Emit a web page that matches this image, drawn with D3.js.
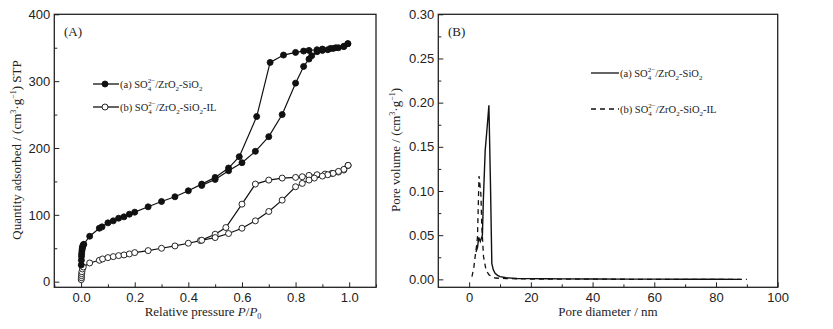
<!DOCTYPE html>
<html lang="en">
<head>
<meta charset="UTF-8">
<title>BET isotherms and pore size distribution</title>
<script src="https://d3js.org/d3.v7.min.js"></script>
<style>
    body{ margin:0; padding:0; background:#fff; }
    svg{ display:block; font-family:"Liberation Serif","Times New Roman",serif; }
    .tick text{ font-size:13px; fill:#222; }
    .tick line{ stroke:#222; }
</style>
</head>
<body>
<svg id="misvg"></svg>
<script>
// (A) isotherms, relative pressure P/P0 vs quantity adsorbed
let aAdsP = [0.0005,0.001,0.0015,0.002,0.003,0.004,0.005,0.006,0.008,0.01,0.032,0.068,0.078,0.10,0.12,0.14,0.16,0.18,0.20,0.25,0.30,0.35,0.40,0.45,0.50,0.55,0.59,0.655,0.705,0.755,0.80,0.83,0.85,0.88,0.90,0.93,0.95,0.98,0.995]
let aAdsV = [25,32,38,42,46,49,51,53,55,56,68,80,82,88,91,95,97,101,104,112,120,127,136,146,156,170,187,247,328,339,343,345,346,347,348,349,350,352,356]
let aDesP = [0.995,0.98,0.96,0.94,0.92,0.90,0.88,0.86,0.85,0.83,0.80,0.75,0.70,0.65,0.60,0.55,0.50,0.45]
let aDesV = [356,352,350,349,347,346,344,338,333,322,297,250,217,195,178,166,153,144]

let bAdsP = [0.0005,0.001,0.0015,0.002,0.003,0.005,0.008,0.032,0.068,0.08,0.10,0.12,0.14,0.16,0.18,0.20,0.25,0.30,0.35,0.40,0.445,0.50,0.54,0.60,0.65,0.70,0.75,0.80,0.825,0.85,0.88,0.91,0.935,0.96,0.98,0.996]
let bAdsV = [3,6,9,12,15,19,22,28,32,34,36,37.5,39,40,41.5,43.5,46.5,50,53.5,57.5,61.5,71,81,116,146,152,155,156,157,159,160,161,162,164,167,174]
let bDesP = [0.996,0.98,0.96,0.94,0.92,0.90,0.87,0.85,0.825,0.80,0.75,0.70,0.65,0.60,0.55,0.50,0.45]
let bDesV = [174,168,165,162,160,158,155,152,147,142,122,105,91,80,72,66,62]

// (B) pore size distribution
let poreA_d = [2.2,2.7,3.1,3.6,4.3,4.6,5.2,5.9,6.4,6.9,7.35,7.8,8.4,9.2,10,12,15.5,20,25,30,40,50,60,70,80,88]
let poreA_v = [0.031,0.036,0.0475,0.043,0.05,0.09,0.146,0.175,0.197,0.11,0.018,0.011,0.0068,0.0045,0.003,0.0018,0.001,0.0008,0.0006,0.0005,0.0004,0.0003,0.0002,0.0001,0.0001,0]
let poreB_d = [0.9,1.5,1.95,2.4,2.7,3.2,3.8,4.1,4.65,5.5,6.5,7.3,8.5,12,20,30,40,50,60,70,80,90]
let poreB_v = [0.003,0.013,0.026,0.038,0.048,0.117,0.097,0.06,0.026,0.01,0.005,0.003,0.0015,0.0008,0.0004,0.0003,0.0002,0.0001,0,0,0,0]

let xTicksA = [0,0.2,0.4,0.6,0.8,1.0]
let xMinorA = [-0.1,0.1,0.3,0.5,0.7,0.9,1.1]
let yTicksA = [0,100,200,300,400]
let yMinorA = [50,150,250,350]
let xTicksB = [0,20,40,60,80,100]
let xMinorB = [10,30,50,70,90]
let yTicksB = [0,0.05,0.10,0.15,0.20,0.25,0.30]
let yMinorB = [0.025,0.075,0.125,0.175,0.225,0.275]

let svgw = 833, svgh = 329
let svg = d3.select("#misvg").attr("width", svgw).attr("height", svgh)

let arriba = 14.3, abajo = 287.3

function frame(x0, x1) {
    svg.append("rect")
        .attr("x", x0).attr("y", arriba)
        .attr("width", x1 - x0).attr("height", abajo - arriba)
        .attr("fill", "none").attr("stroke", "#222").attr("stroke-width", 1.3)
}

function ejes(escalaX, escalaY, xt, xm, yt, ym, fx, fy) {
    let gx = svg.append("g").attr("transform", `translate(0,${abajo})`)
        .call(d3.axisBottom(escalaX).tickValues(xt).tickFormat(fx).tickSize(-5).tickSizeOuter(0).tickPadding(5))
    gx.select(".domain").remove()
    let gxm = svg.append("g").attr("transform", `translate(0,${abajo})`)
        .call(d3.axisBottom(escalaX).tickValues(xm).tickFormat("").tickSize(-3).tickSizeOuter(0))
    gxm.select(".domain").remove()
    let gy = svg.append("g").attr("transform", `translate(${escalaX.range()[0]},0)`)
        .call(d3.axisLeft(escalaY).tickValues(yt).tickFormat(fy).tickSize(-5).tickSizeOuter(0).tickPadding(4))
    gy.select(".domain").remove()
    let gym = svg.append("g").attr("transform", `translate(${escalaX.range()[0]},0)`)
        .call(d3.axisLeft(escalaY).tickValues(ym).tickFormat("").tickSize(-3).tickSizeOuter(0))
    gym.select(".domain").remove()
}

// ---------- panel A ----------
let xA = d3.scaleLinear().domain([-0.1, 1.1]).range([54.3, 376])
let yA = d3.scaleLinear().domain([-8.4, 400]).range([abajo, arriba])

frame(54.3, 376)
ejes(xA, yA, xTicksA, xMinorA, yTicksA, yMinorA, d3.format(".1f"), d3.format("d"))

let lineaA = d3.line().x(d => xA(d[0])).y(d => yA(d[1]))

function serieA(ps, vs, relleno) {
    let pts = ps.map((p, i) => [p, vs[i]])
    svg.append("path").datum(pts).attr("d", lineaA)
        .attr("fill", "none").attr("stroke", "#111").attr("stroke-width", 1.2)
    svg.append("g").selectAll("circle").data(pts).enter().append("circle")
        .attr("cx", d => xA(d[0])).attr("cy", d => yA(d[1])).attr("r", 3)
        .attr("fill", relleno ? "#111" : "#fff").attr("stroke", "#111").attr("stroke-width", 0.9)
}
serieA(bAdsP, bAdsV, false)
serieA(bDesP, bDesV, false)
serieA(aAdsP, aAdsV, true)
serieA(aDesP, aDesV, true)

// ---------- panel B ----------
let xB = d3.scaleLinear().domain([-10, 100]).range([438.3, 777.7])
let yB = d3.scaleLinear().domain([-0.009, 0.30]).range([abajo, arriba])

frame(438.3, 777.7)
ejes(xB, yB, xTicksB, xMinorB, yTicksB, yMinorB, d3.format("d"), d3.format(".2f"))

let lineaB = d3.line().x(d => xB(d[0])).y(d => yB(d[1]))
svg.append("path").datum(poreB_d.map((d, i) => [d, poreB_v[i]])).attr("d", lineaB)
    .attr("fill", "none").attr("stroke", "#111").attr("stroke-width", 1.3).attr("stroke-dasharray", "5,4")
svg.append("path").datum(poreA_d.map((d, i) => [d, poreA_v[i]])).attr("d", lineaB)
    .attr("fill", "none").attr("stroke", "#111").attr("stroke-width", 1.4)

// ---------- texts ----------
function etiqueta(x, y, etq, il) {
    let t = svg.append("text").attr("x", x).attr("y", y).attr("font-size", 10.5).attr("fill", "#222")
    t.append("tspan").text(etq + " SO")
    t.append("tspan").attr("font-size", 7).attr("dy", 3).text("4")
    t.append("tspan").attr("font-size", 7).attr("dx", -3.5).attr("dy", -8).text("2−")
    t.append("tspan").attr("dy", 5).text("/ZrO")
    t.append("tspan").attr("font-size", 7).attr("dy", 3).text("2")
    t.append("tspan").attr("dy", -3).text("-SiO")
    t.append("tspan").attr("font-size", 7).attr("dy", 3).text("2")
    if (il) t.append("tspan").attr("dy", -3).text("-IL")
}

// legend A
let legA = [[84, true, "(a)", false], [107, false, "(b)", true]]
legA.forEach(l => {
    svg.append("line").attr("x1", 93).attr("x2", 119).attr("y1", l[0]).attr("y2", l[0])
        .attr("stroke", "#111").attr("stroke-width", 1.3)
    svg.append("circle").attr("cx", 105).attr("cy", l[0]).attr("r", 3)
        .attr("fill", l[1] ? "#111" : "#fff").attr("stroke", "#111").attr("stroke-width", 0.9)
    etiqueta(120, l[0] + 4, l[2], l[3])
})

// legend B
svg.append("line").attr("x1", 591).attr("x2", 619).attr("y1", 73).attr("y2", 73)
    .attr("stroke", "#111").attr("stroke-width", 1.3)
etiqueta(620, 77, "(a)", false)
svg.append("line").attr("x1", 591).attr("x2", 619).attr("y1", 109).attr("y2", 109)
    .attr("stroke", "#111").attr("stroke-width", 1.3).attr("stroke-dasharray", "5,4")
etiqueta(620, 113, "(b)", true)

svg.append("text").attr("x", 64).attr("y", 36).attr("font-size", 13).attr("fill", "#222").text("(A)")
svg.append("text").attr("x", 448).attr("y", 36).attr("font-size", 13).attr("fill", "#222").text("(B)")

// x titles
let tx = svg.append("text").attr("x", 203).attr("y", 316).attr("text-anchor", "middle")
    .attr("font-size", 13).attr("fill", "#222")
tx.append("tspan").text("Relative pressure ")
tx.append("tspan").attr("font-style", "italic").text("P")
tx.append("tspan").text("/")
tx.append("tspan").attr("font-style", "italic").text("P")
tx.append("tspan").attr("font-size", 8).attr("dy", 3).text("0")

svg.append("text").attr("x", 608).attr("y", 316).attr("text-anchor", "middle")
    .attr("font-size", 13).attr("fill", "#222").text("Pore diameter / nm")

// y titles
function tituloY(x, y, base, extra) {
    let t = svg.append("text").attr("transform", `translate(${x},${y}) rotate(-90)`)
        .attr("text-anchor", "middle").attr("font-size", 13).attr("fill", "#222")
    t.append("tspan").text(base + " / (cm")
    t.append("tspan").attr("font-size", 8).attr("dy", -5).text("3")
    t.append("tspan").attr("dy", 5).text("·g")
    t.append("tspan").attr("font-size", 8).attr("dy", -5).text("−1")
    t.append("tspan").attr("dy", 5).text(")" + extra)
}
tituloY(21, 150, "Quantity adsorbed", " STP")
tituloY(400, 150, "Pore volume", "")
</script>
</body>
</html>
